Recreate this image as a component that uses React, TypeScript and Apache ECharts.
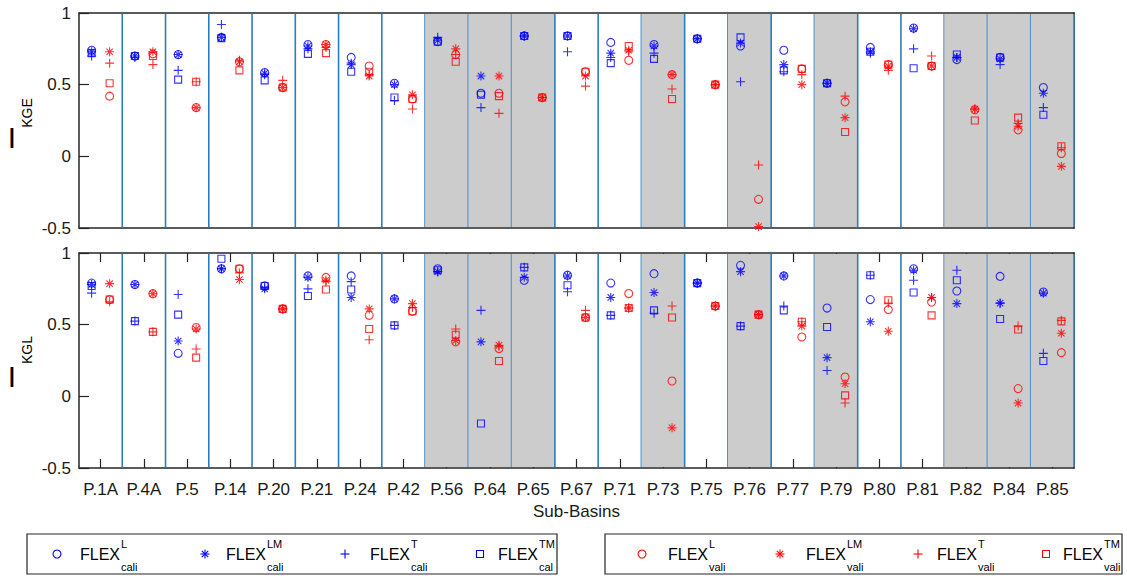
import React, { useEffect, useRef } from 'react';
import * as echarts from 'echarts';

// ---------- data ----------
const categories = ['P.1A','P.4A','P.5','P.14','P.20','P.21','P.24','P.42','P.56','P.64','P.65','P.67','P.71','P.73','P.75','P.76','P.77','P.79','P.80','P.81','P.82','P.84','P.85'];
const grayBasins = ['P.56','P.64','P.65','P.73','P.76','P.79','P.82','P.84','P.85'];
const yTickMin = -0.5;
const yTickMax = 1;
const yTickStep = 0.5;

// I_KGE (top panel)
const kgeCaliL  = [0.74,0.70,0.71,0.83,0.585,0.78,0.69,0.51,0.80,0.44,0.84,0.84,0.795,0.78,0.82,0.77,0.74,0.51,0.76,0.895,0.675,0.69,0.48];
const kgeCaliLM = [0.73,0.70,0.71,0.83,0.58,0.77,0.64,0.50,0.81,0.56,0.84,0.84,0.72,0.77,0.82,0.79,0.64,0.51,0.73,0.89,0.69,0.68,0.44];
const kgeCaliT  = [0.70,0.69,0.60,0.92,0.57,0.75,0.65,0.39,0.83,0.34,0.84,0.73,0.69,0.72,0.82,0.52,0.59,0.51,0.72,0.75,0.69,0.64,0.34];
const kgeCaliTM = [0.72,0.70,0.535,0.825,0.53,0.715,0.59,0.41,0.80,0.43,0.84,0.84,0.65,0.68,0.82,0.83,0.60,0.51,0.73,0.615,0.71,0.69,0.29];
const kgeValiL  = [0.42,0.715,0.34,0.66,0.48,0.78,0.63,0.40,0.71,0.44,0.41,0.59,0.67,0.57,0.50,-0.30,0.61,0.38,0.64,0.63,0.325,0.185,0.02];
const kgeValiLM = [0.73,0.73,0.34,0.66,0.48,0.78,0.56,0.43,0.75,0.56,0.41,0.56,0.74,0.57,0.50,-0.49,0.50,0.27,0.63,0.63,0.33,0.21,-0.07];
const kgeValiT  = [0.65,0.64,0.52,0.67,0.53,0.76,0.57,0.33,0.71,0.30,0.41,0.49,0.73,0.47,0.50,-0.06,0.57,0.42,0.60,0.70,0.33,0.23,0.06];
const kgeValiTM = [0.51,0.70,0.52,0.60,0.48,0.72,0.59,0.40,0.66,0.42,0.41,0.59,0.77,0.40,0.50,null,0.61,0.17,0.64,0.63,0.25,0.27,0.07];

// I_KGL (bottom panel)
const kglCaliL  = [0.79,0.78,0.30,0.89,0.77,0.84,0.84,0.68,0.89,null,0.81,0.845,0.79,0.856,0.79,0.914,0.84,0.616,0.675,0.89,0.735,0.837,0.728];
const kglCaliLM = [0.78,0.78,0.386,0.89,0.75,0.83,0.69,0.68,0.87,0.38,0.83,0.84,0.69,0.724,0.79,0.87,0.84,0.27,0.52,0.88,0.647,0.65,0.72];
const kglCaliT  = [0.72,0.525,0.71,0.89,0.76,0.75,0.80,0.495,0.87,0.60,0.90,0.73,0.565,0.58,0.79,0.49,0.63,0.18,0.845,0.81,0.88,0.65,0.30];
const kglCaliTM = [0.77,0.525,0.57,0.96,0.77,0.70,0.745,0.495,0.88,-0.19,0.90,0.775,0.565,0.60,0.79,0.49,0.60,0.484,0.845,0.724,0.81,0.54,0.247];
const kglValiL  = [0.675,0.716,0.48,0.89,0.61,0.83,0.565,0.594,0.38,0.333,null,0.55,0.717,0.107,0.63,0.57,0.414,0.135,0.605,0.658,null,0.054,0.305];
const kglValiLM = [0.786,0.716,0.47,0.815,0.61,0.81,0.61,0.647,0.39,0.356,null,0.55,0.616,-0.22,0.63,0.57,0.49,0.088,0.454,0.69,null,-0.047,0.44];
const kglValiT  = [0.66,0.45,0.33,0.86,0.61,0.80,0.395,0.62,0.47,0.35,null,0.60,0.616,0.63,0.63,0.57,0.52,-0.047,0.65,0.69,null,0.49,0.53];
const kglValiTM = [0.675,0.45,0.27,0.89,0.61,0.745,0.47,0.594,0.43,0.247,null,0.55,0.616,0.55,0.63,0.57,0.52,0.007,0.67,0.565,null,0.466,0.523];

const legendSupers = ['L', 'LM', 'T', 'TM'];
const caliSubs = ['cali', 'cali', 'cali', 'cal'];
const valiSubs = ['vali', 'vali', 'vali', 'vali'];

// ---------- styles ----------
const BLUE = '#0000ff';
const RED = '#ff0000';
const SEP = '#2a7dc0';
const GRAY = '#cccccc';
const AXIS = '#262626';
const FONT = '"Liberation Sans", Arial, Helvetica, sans-serif';

const ASTER = 'path://M5 0L5 10M0 5L10 5M1.46 1.46L8.54 8.54M8.54 1.46L1.46 8.54';
const PLUS = 'path://M5 0L5 10M0 5L10 5';
const markers = [
  { symbol: 'circle', size: 8 },
  { symbol: ASTER, size: 9 },
  { symbol: PLUS, size: 9 },
  { symbol: 'rect', size: 7 },
];

const GRID_LEFT = 79;
const GRID_W = 995;
const GRIDS = [
  { top: 13, height: 215 },
  { top: 253, height: 215 },
];

function clean(arr: (number | null)[]) {
  return arr.map((v) => (v === null ? '-' : v));
}

function scatter(name: string, data: (number | null)[], m: number, color: string, offset: number, gi: number) {
  return {
    name,
    type: 'scatter',
    xAxisIndex: gi * 2,
    yAxisIndex: gi * 2,
    data: clean(data),
    symbol: markers[m].symbol,
    symbolSize: markers[m].size,
    symbolOffset: [offset, 0],
    itemStyle: { color: 'rgba(0,0,0,0)', borderColor: color, borderWidth: 1.1 },
    emphasis: { disabled: true },
    z: 3,
  };
}

function bandSeries(gi: number) {
  return {
    type: 'custom',
    xAxisIndex: gi * 2,
    yAxisIndex: gi * 2,
    silent: true,
    z: 1,
    data: categories.map((c, i) => [i, grayBasins.includes(c) ? 1 : 0]),
    renderItem: (params: any, api: any) => {
      const idx = api.value(0);
      const top = api.coord([idx, yTickMax]);
      const bottom = api.coord([idx, yTickMin]);
      const bw = api.size([1, 0])[0];
      const x0 = top[0] - bw / 2;
      const x1 = top[0] + bw / 2;
      const children: any[] = [];
      if (api.value(1)) {
        children.push({
          type: 'rect',
          shape: { x: x0, y: top[1] + 1, width: bw, height: bottom[1] - top[1] - 2 },
          style: { fill: GRAY },
        });
      }
      children.push({
        type: 'line',
        shape: { x1: x1, y1: top[1] + 1, x2: x1, y2: bottom[1] - 1 },
        style: { stroke: SEP, lineWidth: 1.6 },
      });
      return { type: 'group', children };
    },
  };
}

function legendGroup(left: number, right: number, symX: number[], textX: number[], color: string, subs: string[]) {
  const top = 534, bottom = 574, cy = 554;
  const children: any[] = [
    { type: 'rect', shape: { x: left, y: top, width: right - left, height: bottom - top }, style: { fill: '#fff', stroke: AXIS, lineWidth: 1.2 } },
  ];
  const st = { stroke: color, lineWidth: 1.1, fill: 'none' };
  symX.forEach((sx, k) => {
    if (k === 0) children.push({ type: 'circle', shape: { cx: sx, cy, r: 4 }, style: st });
    if (k === 1) {
      children.push({ type: 'line', shape: { x1: sx - 4.5, y1: cy, x2: sx + 4.5, y2: cy }, style: st });
      children.push({ type: 'line', shape: { x1: sx, y1: cy - 4.5, x2: sx, y2: cy + 4.5 }, style: st });
      children.push({ type: 'line', shape: { x1: sx - 3.2, y1: cy - 3.2, x2: sx + 3.2, y2: cy + 3.2 }, style: st });
      children.push({ type: 'line', shape: { x1: sx + 3.2, y1: cy - 3.2, x2: sx - 3.2, y2: cy + 3.2 }, style: st });
    }
    if (k === 2) {
      children.push({ type: 'line', shape: { x1: sx - 4.5, y1: cy, x2: sx + 4.5, y2: cy }, style: st });
      children.push({ type: 'line', shape: { x1: sx, y1: cy - 4.5, x2: sx, y2: cy + 4.5 }, style: st });
    }
    if (k === 3) children.push({ type: 'rect', shape: { x: sx - 3.5, y: cy - 3.5, width: 7, height: 7 }, style: st });
  });
  textX.forEach((tx, k) => {
    children.push({ type: 'text', x: tx, y: cy, style: { text: 'FLEX', font: `16px ${FONT}`, fill: '#000', verticalAlign: 'middle', align: 'left' } });
    children.push({ type: 'text', x: tx + 41, y: 538, style: { text: legendSupers[k], font: `11px ${FONT}`, fill: '#000', verticalAlign: 'top', align: 'left' } });
    children.push({ type: 'text', x: tx + 41, y: 572, style: { text: subs[k], font: `11px ${FONT}`, fill: '#000', verticalAlign: 'bottom', align: 'left' } });
  });
  return { type: 'group', children };
}

function yLabel(iCenter: number, subCenter: number, sub: string) {
  return {
    type: 'group',
    children: [
      { type: 'text', x: 12, y: iCenter, style: { text: 'I', font: `30px ${FONT}`, fill: '#000', align: 'center', verticalAlign: 'middle' } },
      { type: 'text', x: 27, y: subCenter, rotation: Math.PI / 2, style: { text: sub, font: `14px ${FONT}`, fill: '#000', align: 'center', verticalAlign: 'middle' } },
    ],
  };
}

export default function App() {
  const ref = useRef<HTMLDivElement>(null);
  useEffect(() => {
    document.body.style.margin = '0';
    if (!ref.current) return;
    const chart = echarts.init(ref.current, undefined, { renderer: 'svg' });

    const xAxes: any[] = [];
    const yAxes: any[] = [];
    GRIDS.forEach((g, gi) => {
      const isBottom = gi === 1;
      xAxes.push({
        type: 'category', gridIndex: gi, data: categories, position: 'bottom',
        axisLine: { show: true, onZero: false, lineStyle: { color: AXIS, width: 1.5 } },
        axisTick: { show: isBottom, inside: true, alignWithLabel: true, interval: 0, length: 9, lineStyle: { color: AXIS, width: 1.2 } },
        axisLabel: { show: isBottom, interval: 0, fontSize: 17, color: '#1a1a1a', fontFamily: FONT, margin: 13 },
        name: isBottom ? 'Sub-Basins' : '', nameLocation: 'middle', nameGap: 35,
        nameTextStyle: { fontSize: 17, color: '#1a1a1a', fontFamily: FONT },
        splitLine: { show: false },
      });
      xAxes.push({
        type: 'category', gridIndex: gi, data: categories, position: 'top',
        axisLine: { show: true, onZero: false, lineStyle: { color: AXIS, width: 1.5 } },
        axisTick: { show: isBottom, inside: true, alignWithLabel: true, interval: 0, length: 9, lineStyle: { color: AXIS, width: 1.2 } },
        axisLabel: { show: false },
        splitLine: { show: false },
      });
      yAxes.push({
        type: 'value', gridIndex: gi, min: yTickMin, max: yTickMax, interval: yTickStep, position: 'left',
        axisLine: { show: true, onZero: false, lineStyle: { color: AXIS, width: 1.5 } },
        axisTick: { show: true, inside: true, length: 10, lineStyle: { color: AXIS, width: 1.2 } },
        axisLabel: { fontSize: 17, color: '#1a1a1a', fontFamily: FONT, margin: 8 },
        splitLine: { show: false },
      });
      yAxes.push({
        type: 'value', gridIndex: gi, min: yTickMin, max: yTickMax, interval: yTickStep, position: 'right',
        axisLine: { show: true, onZero: false, lineStyle: { color: AXIS, width: 1.5 } },
        axisTick: { show: false },
        axisLabel: { show: false },
        splitLine: { show: false },
      });
    });

    const series: any[] = [
      bandSeries(0),
      bandSeries(1),
      scatter('KGE cali L', kgeCaliL, 0, BLUE, -9, 0),
      scatter('KGE cali LM', kgeCaliLM, 1, BLUE, -9, 0),
      scatter('KGE cali T', kgeCaliT, 2, BLUE, -9, 0),
      scatter('KGE cali TM', kgeCaliTM, 3, BLUE, -9, 0),
      scatter('KGE vali L', kgeValiL, 0, RED, 9, 0),
      scatter('KGE vali LM', kgeValiLM, 1, RED, 9, 0),
      scatter('KGE vali T', kgeValiT, 2, RED, 9, 0),
      scatter('KGE vali TM', kgeValiTM, 3, RED, 9, 0),
      scatter('KGL cali L', kglCaliL, 0, BLUE, -9, 1),
      scatter('KGL cali LM', kglCaliLM, 1, BLUE, -9, 1),
      scatter('KGL cali T', kglCaliT, 2, BLUE, -9, 1),
      scatter('KGL cali TM', kglCaliTM, 3, BLUE, -9, 1),
      scatter('KGL vali L', kglValiL, 0, RED, 9, 1),
      scatter('KGL vali LM', kglValiLM, 1, RED, 9, 1),
      scatter('KGL vali T', kglValiT, 2, RED, 9, 1),
      scatter('KGL vali TM', kglValiTM, 3, RED, 9, 1),
    ];

    chart.setOption({
      animation: false,
      backgroundColor: '#ffffff',
      textStyle: { fontFamily: FONT },
      grid: GRIDS.map((g) => ({ left: GRID_LEFT, top: g.top, width: GRID_W, height: g.height, containLabel: false })),
      xAxis: xAxes,
      yAxis: yAxes,
      series,
      graphic: [
        yLabel(137, 113, 'KGE'),
        yLabel(376, 350, 'KGL'),
        legendGroup(27, 557, [57, 205, 345, 480], [80, 226, 370, 498], BLUE, caliSubs),
        legendGroup(605, 1122, [642, 780, 918, 1046], [668, 806, 937, 1063], RED, valiSubs),
      ],
    });
    return () => chart.dispose();
  }, []);
  return <div ref={ref} style={{ width: 1127, height: 576 }} />;
}
